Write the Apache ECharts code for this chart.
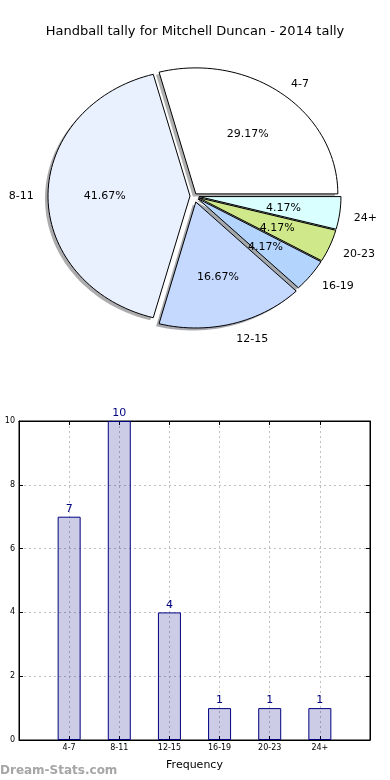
<!DOCTYPE html>
<html><head><meta charset="utf-8">
<script src="https://cdn.jsdelivr.net/npm/echarts@6/dist/echarts.min.js"></script>
<style>html,body{margin:0;padding:0;background:#fff}#c{width:390px;height:780px}</style>
</head><body><div id="c"></div>
<script>
// ---- data ----
const chartTitle = 'Handball tally for Mitchell Duncan - 2014 tally';
const categories = ['4-7', '8-11', '12-15', '16-19', '20-23', '24+'];
const tallies = [7, 10, 4, 1, 1, 1];
const yTicks = [0, 2, 4, 6, 8, 10];

// ---- styles ----
const sliceColors = ['#ffffff', '#eaf1fe', '#c5d9ff', '#b3d4fc', '#cfe98a', '#d9ffff'];
const explodePx = [3, 4, 7, 5, 5, 5];
const PIE = { cx: 194, cy: 196, rx: 142, ry: 126 };
const FONT = 'DejaVu Sans';

const total = tallies.reduce((a, b) => a + b, 0);
function sliceGeom(i) {
  const before = tallies.slice(0, i).reduce((a, b) => a + b, 0);
  const a0 = before / total * 2 * Math.PI;
  const a1 = (before + tallies[i]) / total * 2 * Math.PI;
  const mid = (a0 + a1) / 2;
  const ox = PIE.cx + explodePx[i] * Math.cos(mid);
  const oy = PIE.cy - explodePx[i] * Math.sin(mid) * PIE.ry / PIE.rx;
  return { a0, a1, mid, ox, oy };
}
function slicePoints(i, sx, sy) {
  const g = sliceGeom(i);
  const pts = [[g.ox + sx, g.oy + sy]];
  const n = Math.max(8, Math.ceil((g.a1 - g.a0) / (Math.PI / 90)));
  for (let k = 0; k <= n; k++) {
    const a = g.a0 + (g.a1 - g.a0) * k / n;
    pts.push([g.ox + sx + PIE.rx * Math.cos(a), g.oy + sy - PIE.ry * Math.sin(a)]);
  }
  return pts;
}
function shadowColor(hex) {
  const r = parseInt(hex.slice(1, 3), 16), g = parseInt(hex.slice(3, 5), 16), b = parseInt(hex.slice(5, 7), 16);
  return 'rgba(' + Math.round(r * 0.3) + ',' + Math.round(g * 0.3) + ',' + Math.round(b * 0.3) + ',0.45)';
}
const pieData = tallies.map((v, i) => [i, v]);

const option = {
  animation: false,
  backgroundColor: '#ffffff',
  title: {
    text: chartTitle, left: 'center', top: 20,
    textStyle: { fontFamily: FONT, fontSize: 13, fontWeight: 'normal', color: '#000' }
  },
  graphic: [{
    type: 'text', left: 0, top: 765,
    style: { text: 'Dream-Stats.com', fontFamily: FONT, fontSize: 12, fontWeight: 'bold', fill: '#a6a6a6' }
  }],
  grid: { left: 19, right: 20, top: 421, bottom: 40, show: true, borderColor: '#000', borderWidth: 1 },
  xAxis: [{
    type: 'value', min: -1, max: 6, interval: 1,
    axisLine: { show: true, onZero: false, lineStyle: { color: '#000' } },
    axisTick: { show: true, inside: true, length: 4, lineStyle: { color: '#000' } },
    axisLabel: {
      fontFamily: FONT, fontSize: 8, color: '#000', margin: 4,
      formatter: v => (categories[v] !== undefined ? categories[v] : '')
    },
    splitLine: { show: true, lineStyle: { color: '#c0c0c0', type: [2, 3], width: 1 } },
    name: 'Frequency', nameLocation: 'middle', nameGap: 20,
    nameTextStyle: { fontFamily: FONT, fontSize: 11, color: '#000' }
  }, {
    type: 'value', min: -1, max: 6, interval: 1, position: 'top',
    axisLine: { show: true, onZero: false, lineStyle: { color: '#000' } },
    axisTick: { show: true, inside: true, length: 4, lineStyle: { color: '#000' } },
    axisLabel: { show: false }, splitLine: { show: false }
  }],
  yAxis: [{
    type: 'value', min: yTicks[0], max: yTicks[yTicks.length - 1], interval: yTicks[1] - yTicks[0],
    axisLine: { show: true, onZero: false, lineStyle: { color: '#000' } },
    axisTick: { show: true, inside: true, length: 4, lineStyle: { color: '#000' } },
    axisLabel: { fontFamily: FONT, fontSize: 8, color: '#000', margin: 4 },
    splitLine: { show: true, lineStyle: { color: '#c0c0c0', type: [2, 3], width: 1 } }
  }, {
    type: 'value', min: yTicks[0], max: yTicks[yTicks.length - 1], interval: yTicks[1] - yTicks[0], position: 'right',
    axisLine: { show: true, onZero: false, lineStyle: { color: '#000' } },
    axisTick: { show: true, inside: true, length: 4, lineStyle: { color: '#000' } },
    axisLabel: { show: false }, splitLine: { show: false }
  }],
  series: [
    {
      type: 'bar', xAxisIndex: 0, yAxisIndex: 0,
      data: tallies.map((v, i) => [i, v]),
      barWidth: 23,
      itemStyle: { color: 'rgba(0,0,128,0.2)', borderColor: '#000080', borderWidth: 1 },
      label: { show: true, position: 'top', distance: 2, color: '#000080', fontFamily: FONT, fontSize: 11 },
      silent: true
    },
    {
      type: 'custom', coordinateSystem: 'none', silent: true, data: pieData,
      renderItem: (params, api) => {
        const i = params.dataIndex;
        return { type: 'polygon', shape: { points: slicePoints(i, -3, 2.5) },
          style: { fill: shadowColor(sliceColors[i]), stroke: null } };
      }
    },
    {
      type: 'custom', coordinateSystem: 'none', silent: true, data: pieData,
      renderItem: (params, api) => {
        const i = params.dataIndex;
        return { type: 'polygon', shape: { points: slicePoints(i, 0, 0) },
          style: { fill: sliceColors[i], stroke: '#000', lineWidth: 1 } };
      }
    },
    {
      type: 'custom', coordinateSystem: 'none', silent: true, data: pieData,
      renderItem: (params, api) => {
        const i = params.dataIndex;
        const v = api.value(1);
        const g = sliceGeom(i);
        const c = Math.cos(g.mid), s = Math.sin(g.mid);
        const low = s < 0 ? 1 : 0;
        const px = g.ox + 0.6 * PIE.rx * c, py = g.oy - 0.6 * PIE.ry * s + 2 * low;
        const lx = g.ox + 1.1 * PIE.rx * c, ly = g.oy - 1.1 * PIE.ry * s + 3 * low;
        return { type: 'group', children: [
          { type: 'text', style: { text: (v / total * 100).toFixed(2) + '%', x: px, y: py,
              align: 'center', verticalAlign: 'middle', fontFamily: FONT, fontSize: 11, fill: '#000' } },
          { type: 'text', style: { text: categories[i], x: lx, y: ly,
              align: c > 0 ? 'left' : 'right', verticalAlign: 'middle', fontFamily: FONT, fontSize: 11, fill: '#000' } }
        ] };
      }
    }
  ]
};
const chart = echarts.init(document.getElementById('c'), null, { renderer: 'canvas' });
chart.setOption(option);
</script>
</body></html>
